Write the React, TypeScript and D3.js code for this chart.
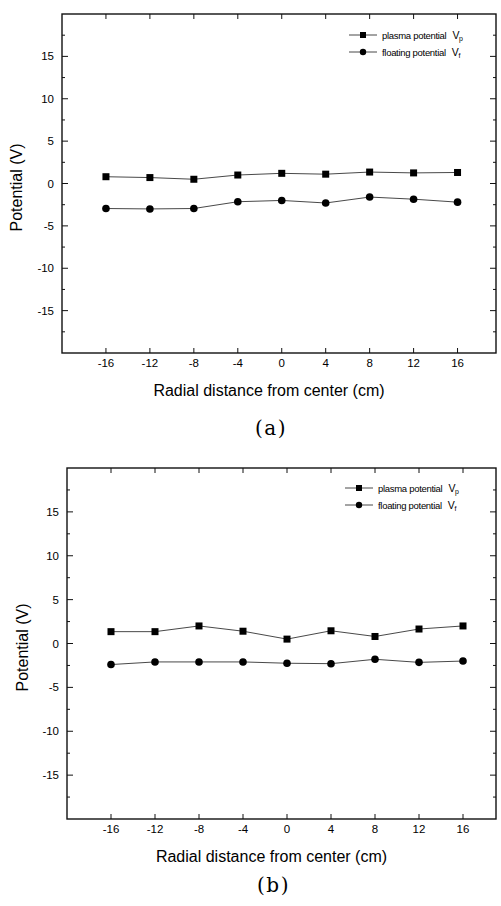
import React from "react";
import * as d3 from "d3";

const positions = [-16, -12, -8, -4, 0, 4, 8, 12, 16];
const plasmaA = [0.8, 0.7, 0.5, 1.0, 1.2, 1.1, 1.35, 1.25, 1.3];
const floatingA = [-2.95, -3.0, -2.95, -2.15, -2.0, -2.3, -1.6, -1.85, -2.2];
const plasmaB = [1.35, 1.35, 2.0, 1.4, 0.5, 1.45, 0.8, 1.65, 2.0];
const floatingB = [-2.4, -2.1, -2.1, -2.1, -2.25, -2.3, -1.8, -2.15, -2.0];
const xTicks = [-16, -12, -8, -4, 0, 4, 8, 12, 16];
const yTicks = [-15, -10, -5, 0, 5, 10, 15];
const yMinorTicks = [-17.5, -12.5, -7.5, -2.5, 2.5, 7.5, 12.5, 17.5];
const seriesNames = ["plasma potential", "floating potential"];
const seriesSubs = ["p", "f"];
const xLabel = "Radial distance from center (cm)";
const yLabel = "Potential (V)";

const SANS = "'Liberation Sans', Arial, sans-serif";

type PanelProps = {
  left: number; right: number; top: number; bottom: number;
  xMax: number;
  plasma: number[]; floating: number[];
  caption: string; captionY: number;
  legendX: number; legendY: number;
  yLabelX: number;
};

function Panel(p: PanelProps) {
  const x = d3.scaleLinear().domain([-20, p.xMax]).range([p.left, p.right]);
  const y = d3.scaleLinear().domain([-20, 20]).range([p.bottom, p.top]);
  const line = d3.line<[number, number]>().x(d => x(d[0])).y(d => y(d[1]));
  const plasmaPts = positions.map((v, i) => [v, p.plasma[i]] as [number, number]);
  const floatPts = positions.map((v, i) => [v, p.floating[i]] as [number, number]);
  const sq = 7;
  const midX = (p.left + p.right) / 2 - 10;
  return (
    <g>
      <rect x={p.left} y={p.top} width={p.right - p.left} height={p.bottom - p.top}
        fill="none" stroke="#111" strokeWidth={1.4} />
      {yTicks.map(t => (
        <g key={"y" + t}>
          <line x1={p.left} x2={p.left + 6} y1={y(t)} y2={y(t)} stroke="#111" strokeWidth={1} />
          <line x1={p.right} x2={p.right - 6} y1={y(t)} y2={y(t)} stroke="#111" strokeWidth={1} />
          <text x={p.left - 8} y={y(t) + 4} textAnchor="end" fontFamily={SANS} fontSize={11.5} fill="#000">{t}</text>
        </g>
      ))}
      {yMinorTicks.map(t => (
        <g key={"ym" + t}>
          <line x1={p.left} x2={p.left + 3} y1={y(t)} y2={y(t)} stroke="#111" strokeWidth={1} />
          <line x1={p.right} x2={p.right - 3} y1={y(t)} y2={y(t)} stroke="#111" strokeWidth={1} />
        </g>
      ))}
      {xTicks.map(t => (
        <g key={"x" + t}>
          <line x1={x(t)} x2={x(t)} y1={p.bottom} y2={p.bottom - 5} stroke="#111" strokeWidth={1} />
          <line x1={x(t)} x2={x(t)} y1={p.top} y2={p.top + 5} stroke="#111" strokeWidth={1} />
          <text x={x(t)} y={p.bottom + 14} textAnchor="middle" fontFamily={SANS} fontSize={11.5} fill="#000">{t}</text>
        </g>
      ))}
      <path d={line(plasmaPts) || ""} fill="none" stroke="#333" strokeWidth={0.9} />
      <path d={line(floatPts) || ""} fill="none" stroke="#333" strokeWidth={0.9} />
      {plasmaPts.map((d, i) => (
        <rect key={"s" + i} x={x(d[0]) - sq / 2} y={y(d[1]) - sq / 2} width={sq} height={sq} fill="#000" />
      ))}
      {floatPts.map((d, i) => (
        <circle key={"c" + i} cx={x(d[0])} cy={y(d[1])} r={3.8} fill="#000" />
      ))}
      {seriesNames.map((name, i) => {
        const ly = p.legendY + i * 17;
        return (
          <g key={"l" + i}>
            <line x1={p.legendX} x2={p.legendX + 28} y1={ly} y2={ly} stroke="#333" strokeWidth={0.9} />
            {i === 0 ? (
              <rect x={p.legendX + 14 - 3} y={ly - 3} width={6} height={6} fill="#000" />
            ) : (
              <circle cx={p.legendX + 14} cy={ly} r={3.2} fill="#000" />
            )}
            <text x={p.legendX + 33} y={ly + 3.5} fontFamily={SANS} fontSize={9.5} fill="#000" letterSpacing={-0.3}>
              {name}
              <tspan dx={6} fontSize={10.5}>V</tspan>
              <tspan dy={2.5} fontSize={7}>{seriesSubs[i]}</tspan>
            </text>
          </g>
        );
      })}
      <text x={midX} y={p.bottom + 43} textAnchor="middle" fontFamily={SANS} fontSize={16} fill="#000">{xLabel}</text>
      <text transform={`translate(${p.yLabelX},${(p.top + p.bottom) / 2 + 4}) rotate(-90)`} textAnchor="middle"
        fontFamily={SANS} fontSize={16} fill="#000">{yLabel}</text>
      <text x={midX + 2} y={p.captionY} textAnchor="middle" fontFamily="'DejaVu Serif', serif" fontSize={20}
        letterSpacing={1.5} fill="#000">{p.caption}</text>
    </g>
  );
}

export default function App() {
  return (
    <svg width={501} height={906} style={{ position: "absolute", left: 0, top: 0, background: "#fff" }}>
      <rect width={501} height={906} fill="#fff" />
      <Panel left={62} right={496} top={14} bottom={353} xMax={19.5}
        plasma={plasmaA} floating={floatingA} caption="(a)" captionY={435}
        legendX={349} legendY={35} yLabelX={22} />
      <Panel left={67} right={496} top={468} bottom={819} xMax={19.0}
        plasma={plasmaB} floating={floatingB} caption="(b)" captionY={892}
        legendX={345} legendY={488} yLabelX={28} />
    </svg>
  );
}
